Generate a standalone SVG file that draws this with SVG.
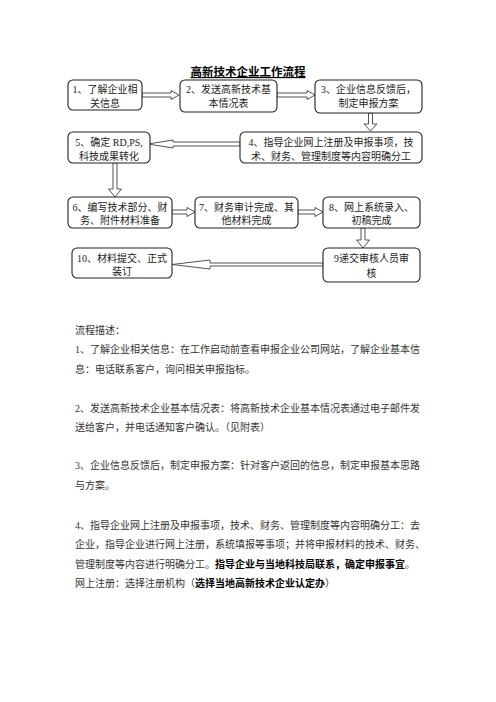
<svg xmlns="http://www.w3.org/2000/svg" width="496" height="702" viewBox="0 0 496 702">
<style>
.box{fill:#fff;stroke:#222;stroke-width:1.1}
.bt{font-family:"Liberation Serif","Noto Sans CJK SC",serif;font-size:10px;fill:#222;text-anchor:middle}
.arr{fill:#fff;stroke:#555;stroke-width:1}
.body{font-family:"Liberation Serif","Noto Sans CJK SC",serif;font-size:10px;fill:#333}
.b{font-weight:bold;fill:#000}
.title{font-family:"Noto Sans CJK SC",sans-serif;font-size:11.5px;font-weight:bold;fill:#000;text-anchor:middle;text-decoration:underline}
</style>
<rect width="496" height="702" fill="#fff"/>
<text class="title" x="248" y="76">高新技术企业工作流程</text>
<g id="connectors">
<path class="arr" d="M142,93 L171,93 L171,90.5 L179,95 L171,99.5 L171,97 L142,97 Z"/>
<path class="arr" d="M277,93 L307,93 L307,90.5 L315,95 L307,99.5 L307,97 L277,97 Z"/>
<path class="arr" d="M368.5,113 L368.5,124 L364,124 L370.5,131 L377,124 L372.5,124 L372.5,113 Z"/>
<path class="arr" d="M240,142 L173,142 L173,140 L148,144 L173,148 L173,146 L240,146 Z"/>
<path class="arr" d="M113,163 L113,189 L108.5,189 L115,197 L121.5,189 L117,189 L117,163 Z"/>
<path class="arr" d="M172,210 L187,210 L187,207.5 L195,212 L187,216.5 L187,214 L172,214 Z"/>
<path class="arr" d="M298,210 L315,210 L315,207.5 L323,212 L315,216.5 L315,214 L298,214 Z"/>
<path class="arr" d="M361,228 L361,240 L356.5,240 L363,248 L369.5,240 L365,240 L365,228 Z"/>
<path class="arr" d="M323,263 L210,263 L210,260 L172,264.5 L210,269 L210,266 L323,266 Z"/>
</g>
<g id="n1"><rect class="box" x="68" y="80" width="74" height="30" rx="5"/><text class="bt" x="105" y="93">1、了解企业相</text><text class="bt" x="105" y="107">关信息</text></g>
<g id="n2"><rect class="box" x="180" y="80" width="97" height="32" rx="5"/><text class="bt" x="228.5" y="93">2、发送高新技术基</text><text class="bt" x="228.5" y="107">本情况表</text></g>
<g id="n3"><rect class="box" x="315" y="80" width="107" height="33" rx="5"/><text class="bt" x="368.5" y="93">3、企业信息反馈后，</text><text class="bt" x="368.5" y="107">制定申报方案</text></g>
<g id="n4"><rect class="box" x="240" y="132" width="182" height="31" rx="5"/><text class="bt" x="331" y="146">4、指导企业网上注册及申报事项，技</text><text class="bt" x="331" y="160">术、财务、管理制度等内容明确分工</text></g>
<g id="n5"><rect class="box" x="68" y="132" width="82" height="31" rx="5"/><text class="bt" x="109" y="146">5、确定 RD,PS,</text><text class="bt" x="109" y="160">科技成果转化</text></g>
<g id="n6"><rect class="box" x="68" y="197" width="104" height="31" rx="5"/><text class="bt" x="120" y="211">6、编写技术部分、财</text><text class="bt" x="120" y="224">务、附件材料准备</text></g>
<g id="n7"><rect class="box" x="195" y="197" width="103" height="31" rx="5"/><text class="bt" x="246.5" y="211">7、财务审计完成、其</text><text class="bt" x="246.5" y="224">他材料完成</text></g>
<g id="n8"><rect class="box" x="323" y="197" width="97" height="31" rx="5"/><text class="bt" x="371.5" y="211">8、网上系统录入、</text><text class="bt" x="371.5" y="224">初稿完成</text></g>
<g id="n9"><rect class="box" x="323" y="248" width="97" height="34" rx="5"/><text class="bt" x="371.5" y="262">9递交审核人员审</text><text class="bt" x="371.5" y="277">核</text></g>
<g id="n10"><rect class="box" x="72" y="248" width="100" height="30" rx="5"/><text class="bt" x="122" y="262">10、材料提交、正式</text><text class="bt" x="122" y="275">装订</text></g>
<g id="desc">
<text class="body" x="75" y="334">流程描述：</text>
<text class="body" x="75" y="353">1、了解企业相关信息：在工作启动前查看申报企业公司网站，了解企业基本信</text>
<text class="body" x="75" y="373">息：电话联系客户，询问相关申报指标。</text>
<text class="body" x="75" y="412">2、发送高新技术企业基本情况表：将高新技术企业基本情况表通过电子邮件发</text>
<text class="body" x="75" y="431">送给客户，并电话通知客户确认。（见附表）</text>
<text class="body" x="75" y="469">3、企业信息反馈后，制定申报方案：针对客户返回的信息，制定申报基本思路</text>
<text class="body" x="75" y="489">与方案。</text>
<text class="body" x="75" y="529">4、指导企业网上注册及申报事项，技术、财务、管理制度等内容明确分工：去</text>
<text class="body" x="75" y="548">企业，指导企业进行网上注册，系统填报等事项；并将申报材料的技术、财务、</text>
<text class="body" x="75" y="568">管理制度等内容进行明确分工。<tspan class="b">指导企业与当地科技局联系，确定申报事宜</tspan>。</text>
<text class="body" x="75" y="587">网上注册：选择注册机构（<tspan class="b">选择当地高新技术企业认定办</tspan>）</text>
</g>
</svg>
